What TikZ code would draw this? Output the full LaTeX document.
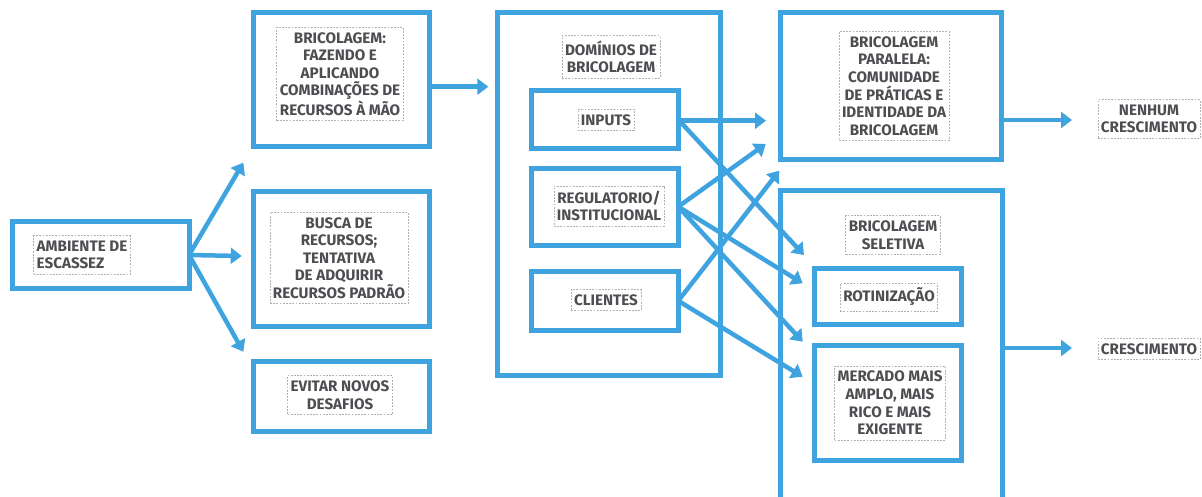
\documentclass[tikz,border=0pt]{standalone}
\usepackage{fontspec}
\setmainfont{Fira Sans}
\usetikzlibrary{arrows.meta}
\definecolor{flow}{RGB}{62,163,222}
\definecolor{ink}{RGB}{78,78,82}
\definecolor{framegray}{RGB}{175,175,180}
\tikzset{
  box/.style={draw=flow, line width=5pt, inner sep=0pt, outer sep=0pt},
  txt/.style={text=ink, font=\bfseries\fontsize{15.2}{17.6}\selectfont, align=center,
    draw=framegray, dash pattern=on 1.8pt off 1.4pt, line width=0.7pt,
    inner xsep=3pt, inner ysep=5pt},
  flowarrow/.style={draw=flow, line width=4.5pt, -{Triangle[length=11pt,width=16pt]}}
}
\begin{document}
\begin{tikzpicture}[x=1pt,y=-1pt]
\useasboundingbox (0,0) rectangle (1202,496);
\clip (0,0) rectangle (1202,496);

% frames
\node[box, minimum width=176.5pt, minimum height=67pt]   (amb)   at (100.75,255) {};
\node[box, minimum width=175.5pt, minimum height=133.5pt] (bric) at (341.25,79.25) {};
\node[box, minimum width=175.5pt, minimum height=135.5pt] (busca) at (341.25,258.75) {};
\node[box, minimum width=175.5pt, minimum height=70pt]   (evit)  at (341.25,396) {};
\node[box, minimum width=222.5pt, minimum height=362.5pt] (dom)  at (608.75,193.75) {};
\node[box, minimum width=146.4pt, minimum height=57.4pt] (inp)   at (605,119.5) {};
\node[box, minimum width=146.4pt, minimum height=77pt]   (reg)   at (605,206.7) {};
\node[box, minimum width=146.4pt, minimum height=58.7pt] (cli)   at (605,300.85) {};
\node[box, minimum width=221pt, minimum height=147.3pt]  (par)   at (891.3,86.15) {};
\node[box, minimum width=221.7pt, minimum height=339.2pt] (sel)  at (891.65,360.4) {};
\node[box, minimum width=147.6pt, minimum height=56.6pt] (rot)   at (888,296.5) {};
\node[box, minimum width=147.6pt, minimum height=114.4pt] (merc) at (888,403) {};

% labels
\node[txt, align=left] (tamb) at (82,255) {AMBIENTE DE\\ESCASSEZ};
\node[txt] (tbric) at (340,74) {BRICOLAGEM:\\FAZENDO E\\APLICANDO\\COMBINAÇÕES DE\\RECURSOS À MÃO};
\node[txt] (tbus) at (339,258) {BUSCA DE\\RECURSOS;\\TENTATIVA\\DE ADQUIRIR\\RECURSOS PADRÃO};
\node[txt] (tevi) at (340,395) {EVITAR NOVOS\\DESAFIOS};
\node[txt] (tdom) at (611,57) {DOMÍNIOS DE\\BRICOLAGEM};
\node[txt] (tinp) at (606,120) {INPUTS};
\node[txt] (treg) at (609,206) {REGULATORIO/\\INSTITUCIONAL};
\node[txt] (tcli) at (606,300) {CLIENTES};
\node[txt] (tpar) at (894,86) {BRICOLAGEM\\PARALELA:\\COMUNIDADE\\DE PRÁTICAS E\\IDENTIDADE DA\\BRICOLAGEM};
\node[txt] (tsel) at (893,235) {BRICOLAGEM\\SELETIVA};
\node[txt] (trot) at (889,297) {ROTINIZAÇÃO};
\node[txt] (tmer) at (890,403) {MERCADO MAIS\\AMPLO, MAIS\\RICO E MAIS\\EXIGENTE};
\node[txt] (tnen) at (1149,119) {NENHUM\\CRESCIMENTO};
\node[txt] (tcre) at (1149,349) {CRESCIMENTO};

% arrow ends
\coordinate (a1) at (243.3,162.7);
\coordinate (a2) at (241.7,256);
\coordinate (a3) at (243.3,351.7);
\coordinate (a4) at (488.3,86.7);
\coordinate (a5) at (766,120.7);
\coordinate (a6) at (804,255);
\coordinate (a7) at (765.7,144);
\coordinate (a8) at (802.7,283.3);
\coordinate (a9) at (802.7,341.7);
\coordinate (a10) at (779.3,170.7);
\coordinate (a11) at (802.7,376.7);
\coordinate (a12) at (1072,120);
\coordinate (a13) at (1072,348);

% connectors
\draw[flowarrow] (amb.east) -- (a1);
\draw[flowarrow] (amb.east) -- (a2);
\draw[flowarrow] (amb.east) -- (a3);
\draw[flowarrow] (bric.east |- a4) -- (a4);
\draw[flowarrow] (inp.east |- a5) -- (a5);
\draw[flowarrow] (inp.east) -- (a6);
\draw[flowarrow] (reg.east) -- (a7);
\draw[flowarrow] (reg.east) -- (a8);
\draw[flowarrow] (reg.east) -- (a9);
\draw[flowarrow] (cli.east) -- (a10);
\draw[flowarrow] (cli.east) -- (a11);
\draw[flowarrow] (par.east |- a12) -- (a12);
\draw[flowarrow] (sel.east |- a13) -- (a13);
\end{tikzpicture}
\end{document}
